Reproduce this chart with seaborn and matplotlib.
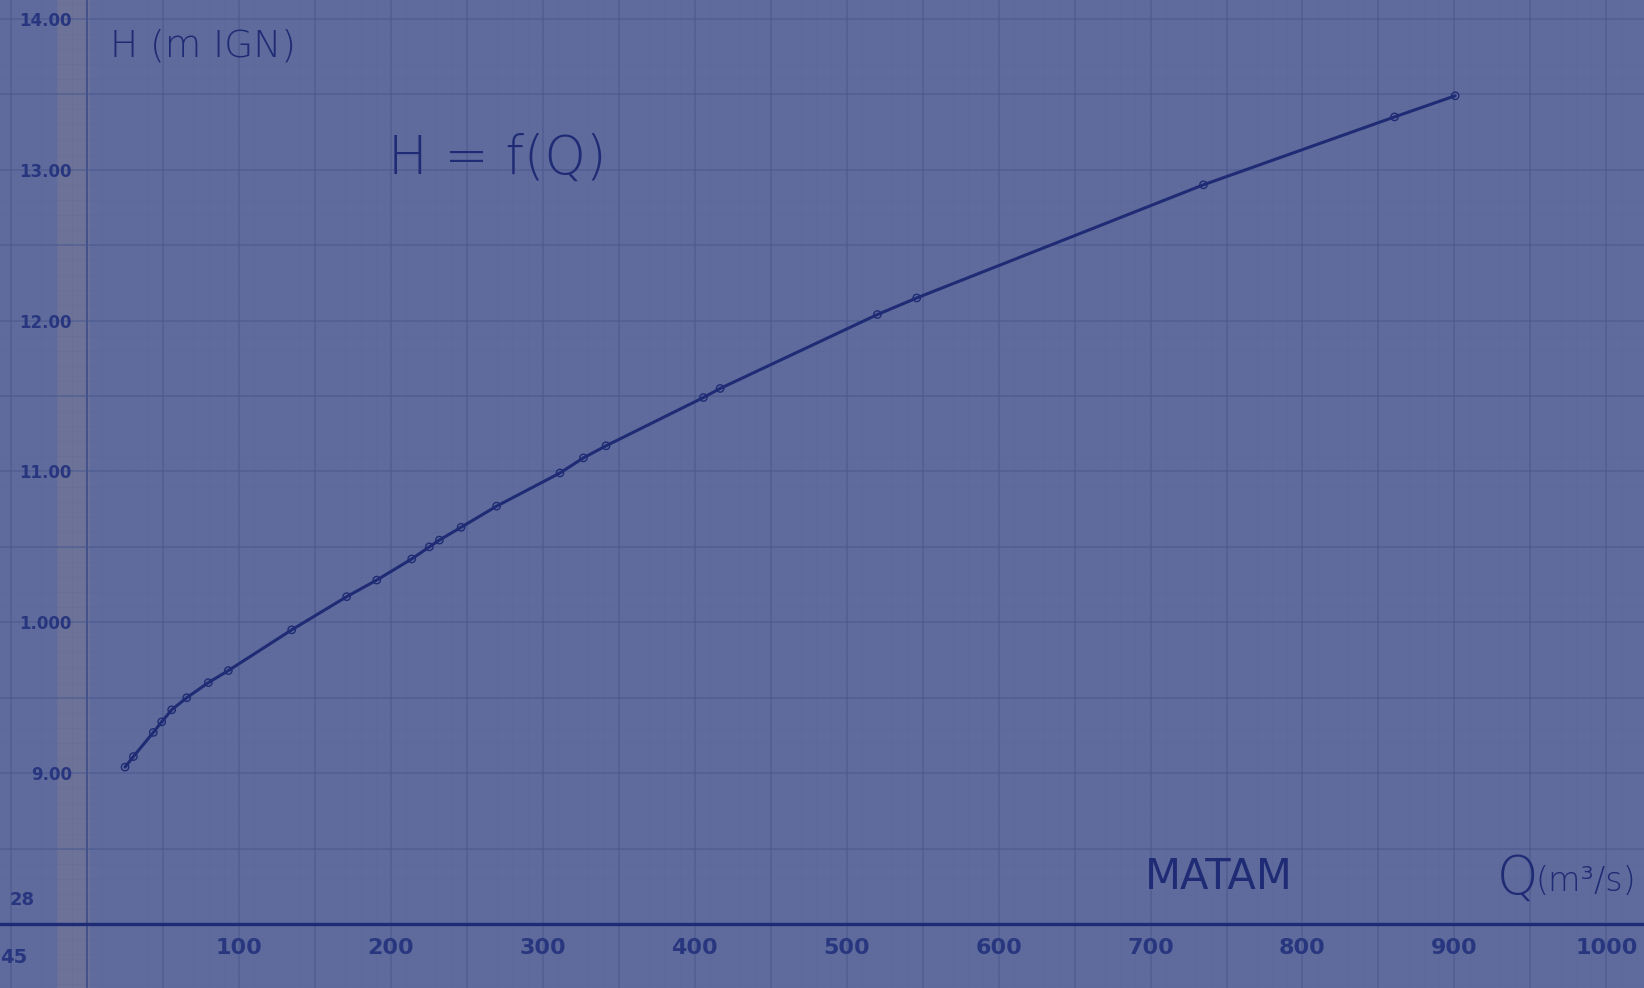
import numpy as np
import pandas as pd
import seaborn as sns
import matplotlib.pyplot as plt

# discharge Q (m3/s) and stage H (m IGN)
q_values = [25.0, 30.5, 43.6, 49.1, 55.7, 65.6, 79.8, 93.0, 134.7, 170.9,
            190.7, 213.7, 225.3, 231.9, 246.2, 269.6, 311.3, 326.7, 341.6,
            405.7, 416.7, 520.2, 546.1, 734.8, 860.6, 900.5]
h_values = [9.04, 9.11, 9.27, 9.34, 9.42, 9.50, 9.60, 9.68, 9.95, 10.17,
            10.28, 10.42, 10.50, 10.545, 10.63, 10.77, 10.99, 11.09, 11.17,
            11.49, 11.55, 12.04, 12.15, 12.90, 13.35, 13.49]

x_ticks = [100, 200, 300, 400, 500, 600, 700, 800, 900, 1000]
x_labels = ["100", "200", "300", "400", "500", "600", "700", "800", "900", "1000"]
y_ticks = [9, 10, 11, 12, 13, 14]
y_labels = ["9.00", "1.000", "11.00", "12.00", "13.00", "14.00"]

paper = "#5e6b9c"
grid_col = "#4c5990"
ink = "#1f2b74"
label_ink = "#28367f"

sns.set_style("white")
plt.rcParams["font.family"] = ["DejaVu Sans"]

df = pd.DataFrame({"Q": q_values, "H": h_values})

fig = plt.figure(figsize=(16.44, 9.88), dpi=100)
fig.patch.set_facecolor(paper)
ax = fig.add_axes([0, 0, 1, 1])
ax.set_facecolor(paper)

# graph paper
ax.set_xticks(np.arange(-50, 1051, 10), minor=True)
ax.set_yticks(np.arange(7.6, 14.2, 0.1), minor=True)
ax.grid(which="minor", color=grid_col, lw=0.5, alpha=0.12)
for gx in np.arange(-50, 1051, 50):
    ax.axvline(gx, color=grid_col, lw=1.2, alpha=0.6, zorder=0.5)
for gy in np.arange(8.0, 14.2, 0.5):
    ax.axhline(gy, color=grid_col, lw=1.2, alpha=0.6, zorder=0.5)

# fold / stain band near the left edge
ax.axvspan(-20, 2, color="#8f8590", alpha=0.3, lw=0, zorder=0.4)

# the rating curve
sns.lineplot(data=df, x="Q", y="H", sort=False, estimator=None,
             color=ink, lw=2.2, ax=ax, zorder=3)
sns.scatterplot(data=df, x="Q", y="H", marker="o", s=28,
                facecolor="none", edgecolor=ink, linewidth=1.0, ax=ax, zorder=4)

# axes drawn at Q = 0 and H = 8
for s in ["top", "right"]:
    ax.spines[s].set_visible(False)
ax.spines["left"].set_position(("data", 0))
ax.spines["left"].set_color("#44518a")
ax.spines["left"].set_linewidth(1.5)
ax.spines["bottom"].set_position(("data", 8))
ax.spines["bottom"].set_color(ink)
ax.spines["bottom"].set_linewidth(2.4)

ax.set_xticks(x_ticks)
ax.set_xticklabels(x_labels)
ax.set_yticks(y_ticks)
ax.set_yticklabels(y_labels)
ax.tick_params(axis="x", which="major", direction="inout", length=16, width=1.5,
               color=ink, labelcolor=label_ink, labelsize=16, pad=2)
ax.tick_params(axis="y", which="major", direction="out", length=7, width=1.2,
               color="#3f4c88", labelcolor=label_ink, labelsize=12, pad=4)
ax.tick_params(which="minor", length=0)
for lab in ax.get_xticklabels() + ax.get_yticklabels():
    lab.set_fontweight("bold")
ax.set_xlabel("")
ax.set_ylabel("")

# stray labels at the cut-off left edge
ax.text(-51, 8.16, "28", color=label_ink, fontsize=13, fontweight="bold",
        ha="left", va="center")
ax.text(-57, 7.78, "45", color=label_ink, fontsize=14, fontweight="bold",
        ha="left", va="center")

# hand lettering
ax.text(15, 13.82, "H (m IGN)", color=ink, fontsize=27, fontweight="light",
        ha="left", va="center")
ax.text(198, 13.07, "H = f(Q)", color=ink, fontsize=38, fontweight="light",
        ha="left", va="center")
ax.text(696, 8.31, "MATAM", color=ink, fontsize=30, ha="left", va="center")
ax.text(928, 8.30, "Q", color=ink, fontsize=38, fontweight="light",
        ha="left", va="center")
ax.text(953, 8.28, "(m³/s)", color=ink, fontsize=24, fontweight="light",
        ha="left", va="center")

# limits last so the grid lines cannot widen them
ax.set_xlim(-57.3, 1024.8)
ax.set_ylim(7.576, 14.125)

fig.savefig("out.png", dpi=100, facecolor=paper)
